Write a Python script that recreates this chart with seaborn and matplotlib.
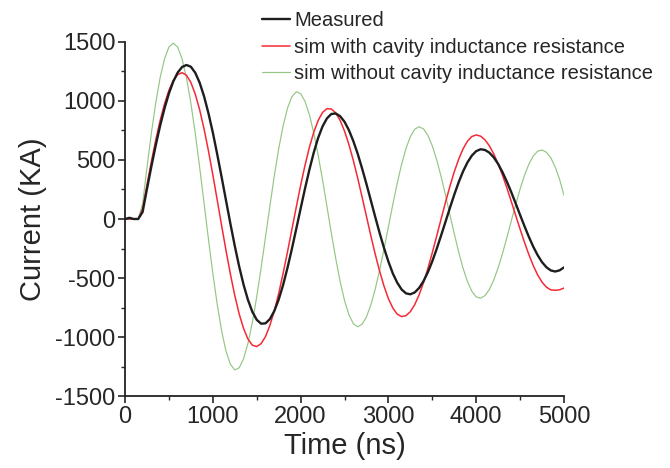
import numpy as np
import pandas as pd
import matplotlib
matplotlib.use('Agg')
import matplotlib.pyplot as plt
import seaborn as sns
from matplotlib.ticker import MultipleLocator

# sample grid (ns)
time_ns = np.arange(0, 5001, 50)

# values, one per 50 ns
measured = [
    0, 10, 0, 0, 59, 255, 445, 625, 791, 938,
    1064, 1166, 1241, 1288, 1305, 1290, 1239, 1155, 1040, 897,
    733, 549, 356, 158, -39, -228, -402, -556, -685, -786,
    -854, -887, -884, -848, -780, -683, -560, -415, -255, -85,
    88, 258, 418, 564, 688, 785, 853, 890, 894, 871,
    824, 753, 661, 553, 429, 296, 157, 17, -119, -246,
    -361, -461, -539, -597, -630, -638, -622, -584, -526, -450,
    -358, -253, -140, -24, 93, 206, 311, 403, 479, 537,
    575, 591, 585, 562, 522, 466, 396, 315, 226, 131,
    34, -61, -152, -235, -307, -366, -409, -436, -445, -435,
    -410]

sim_with = [
    0, 0, 0, 0, 83, 289, 486, 670, 835, 976,
    1090, 1174, 1224, 1240, 1218, 1157, 1058, 926, 764, 578,
    375, 161, -55, -266, -466, -648, -804, -927, -1017, -1069,
    -1081, -1056, -996, -902, -779, -632, -463, -281, -91, 99,
    284, 455, 608, 736, 835, 903, 935, 932, 899, 836,
    745, 631, 497, 347, 187, 22, -142, -299, -442, -569,
    -675, -754, -806, -827, -819, -785, -725, -642, -538, -418,
    -285, -144, 0, 141, 276, 400, 506, 594, 659, 699,
    712, 702, 671, 620, 551, 467, 370, 262, 147, 30,
    -86, -198, -302, -395, -474, -535, -578, -601, -604, -600,
    -585]

sim_without = [
    0, 0, 0, 0, 126, 436, 727, 985, 1198, 1357,
    1457, 1490, 1456, 1357, 1196, 982, 725, 439, 136, -169,
    -460, -723, -947, -1119, -1231, -1279, -1261, -1185, -1055, -877,
    -659, -414, -153, 110, 364, 593, 788, 938, 1036, 1078,
    1063, 997, 884, 729, 541, 330, 106, -120, -335, -529,
    -690, -811, -887, -913, -892, -829, -728, -594, -433, -254,
    -66, 123, 302, 463, 597, 698, 761, 782, 763, 708,
    619, 501, 360, 203, 38, -125, -279, -417, -529, -612,
    -660, -671, -649, -597, -517, -413, -291, -156, -15, 124,
    254, 370, 465, 534, 575, 585, 565, 518, 440, 335,
    200]

labels = ['Measured', 'sim with cavity inductance resistance',
          'sim without cavity inductance resistance']
colors = {labels[0]: '#1e1e1e', labels[1]: '#f52a36', labels[2]: '#94c684'}
widths = {labels[0]: 1.7, labels[1]: 1.1, labels[2]: 0.85}

df = pd.DataFrame({'Time': time_ns, labels[0]: measured,
                   labels[1]: sim_with, labels[2]: sim_without})
df = df.melt(id_vars='Time', var_name='series', value_name='Current')

sns.set_style('ticks')
plt.rcParams['font.family'] = ['Liberation Sans', 'DejaVu Sans']
plt.rcParams['axes.unicode_minus'] = False

fig = plt.figure(figsize=(6.7, 4.68), dpi=100)
ax = fig.add_axes([0.1866, 0.1538, 0.6552, 0.7565])

# draw green first, black on top
for name in [labels[2], labels[1], labels[0]]:
    sns.lineplot(data=df[df['series'] == name], x='Time', y='Current',
                 color=colors[name], linewidth=widths[name], label=name, ax=ax)

ax.set_xlim(0, 5000)
ax.set_ylim(-1500, 1500)
ax.xaxis.set_major_locator(MultipleLocator(1000))
ax.xaxis.set_minor_locator(MultipleLocator(500))
ax.yaxis.set_major_locator(MultipleLocator(500))
ax.yaxis.set_minor_locator(MultipleLocator(250))
ax.tick_params(which='major', direction='out', length=5, width=1.2, labelsize=17, pad=2)
ax.tick_params(which='minor', direction='out', length=3, width=1.0)
sns.despine(ax=ax)
for s in ['left', 'bottom']:
    ax.spines[s].set_linewidth(1.3)
    ax.spines[s].set_color('#222222')

ax.set_xlabel('Time (ns)', fontsize=21, labelpad=3)
ax.set_ylabel('Current (KA)', fontsize=21, labelpad=6)

handles, lbls = ax.get_legend_handles_labels()
order = [lbls.index(l) for l in labels]
ax.legend([handles[i] for i in order], [lbls[i] for i in order],
          loc='upper left', bbox_to_anchor=(262 / 670, 1 - 11 / 468),
          bbox_transform=fig.transFigure, frameon=False, fontsize=14.5,
          borderpad=0, borderaxespad=0, handlelength=1.4, handletextpad=0.2,
          labelspacing=0.38)

plt.savefig('out.png', dpi=100)
